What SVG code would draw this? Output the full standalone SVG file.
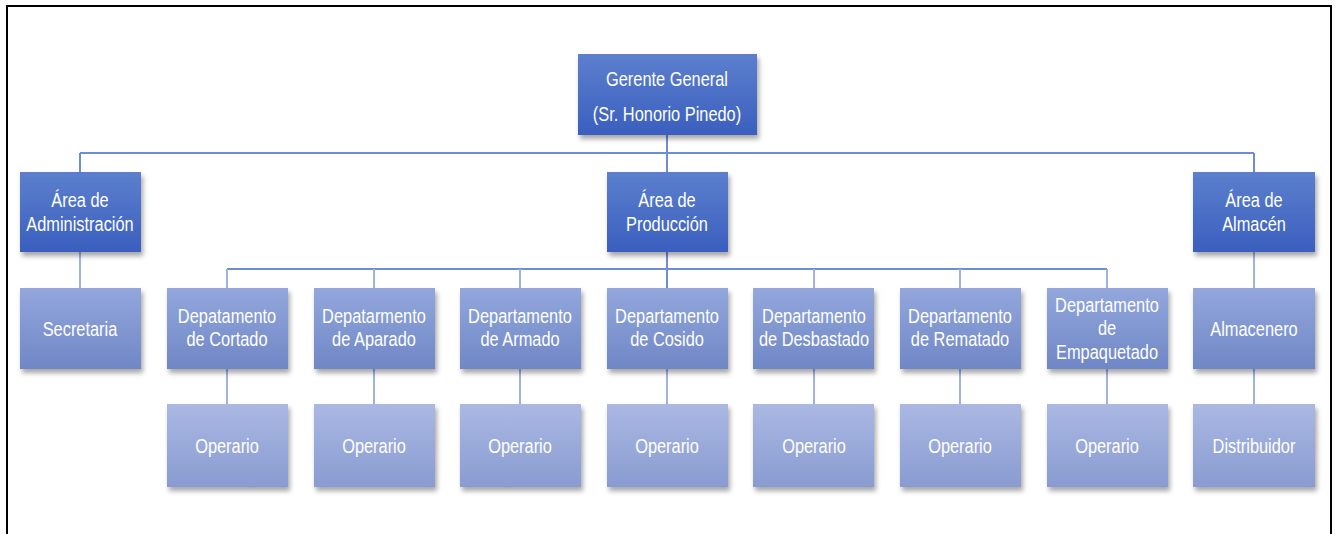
<svg xmlns="http://www.w3.org/2000/svg" width="1338" height="534" viewBox="0 0 1338 534">
  <defs>
    <linearGradient id="gDark" x1="0" y1="0" x2="0" y2="1">
      <stop offset="0" stop-color="#5c7fcd"/>
      <stop offset="1" stop-color="#3a5fbf"/>
    </linearGradient>
    <linearGradient id="gMid" x1="0" y1="0" x2="0" y2="1">
      <stop offset="0" stop-color="#93a7dc"/>
      <stop offset="1" stop-color="#6f87c6"/>
    </linearGradient>
    <linearGradient id="gLight" x1="0" y1="0" x2="0" y2="1">
      <stop offset="0" stop-color="#aab8e2"/>
      <stop offset="1" stop-color="#899bd1"/>
    </linearGradient>
    <filter id="shadow" x="-10%" y="-10%" width="125%" height="135%">
      <feDropShadow dx="2" dy="4" stdDeviation="2.5" flood-color="#000" flood-opacity="0.35"/>
    </filter>
  </defs>
  <style>
    .box { filter: url(#shadow); }
    .dark { fill: url(#gDark); }
    .mid { fill: url(#gMid); }
    .light { fill: url(#gLight); }
    /* condensed sans: regular face squeezed horizontally */
    text { font-family: "Liberation Sans", Arial, sans-serif; font-size: 21px; fill: #ffffff; text-anchor: middle; }
    .lnTop { stroke: #6f8dd5; stroke-width: 2; fill: none; }
    .lnLow { stroke: #a2b1e0; stroke-width: 2; fill: none; }
  </style>

  <rect width="1338" height="534" fill="#ffffff"/>
  <!-- frame -->
  <path d="M7,534 V6 H1331 V534" fill="none" stroke="#000" stroke-width="2"/>

  <!-- connectors -->
  <g id="connectors">
    <path class="lnTop" d="M667,135 V172 M80,153 H1254 M80,153 V172 M1254,153 V172"/>
    <path class="lnTop" d="M667,252 V288 M227,269 H1107"/>
    <path class="lnLow" d="M227,269 V288 M374,269 V288 M520,269 V288 M814,269 V288 M960,269 V288 M1107,269 V288"/>
    <path class="lnLow" d="M80,252 V288 M1254,252 V288"/>
    <path class="lnLow" d="M227,369 V404 M374,369 V404 M520,369 V404 M667,369 V404 M814,369 V404 M960,369 V404 M1107,369 V404 M1254,369 V404"/>
  </g>

  <!-- top -->
  <g id="gerente">
    <rect class="box dark" x="578" y="54" width="179" height="81"/>
    <text transform="translate(667 86) scale(0.78 1)">Gerente General</text>
    <text transform="translate(667 121) scale(0.78 1)">(Sr. Honorio Pinedo)</text>
  </g>

  <!-- areas -->
  <g id="area-administracion">
    <rect class="box dark" x="20" y="172" width="121" height="80"/>
    <text transform="translate(80 207) scale(0.78 1)">Área de</text>
    <text transform="translate(80 231) scale(0.78 1)">Administración</text>
  </g>
  <g id="area-produccion">
    <rect class="box dark" x="607" y="172" width="121" height="80"/>
    <text transform="translate(667 207) scale(0.78 1)">Área de</text>
    <text transform="translate(667 231) scale(0.78 1)">Producción</text>
  </g>
  <g id="area-almacen">
    <rect class="box dark" x="1193" y="172" width="122" height="80"/>
    <text transform="translate(1254 207) scale(0.78 1)">Área de</text>
    <text transform="translate(1254 231) scale(0.78 1)">Almacén</text>
  </g>

  <!-- departments -->
  <g id="secretaria">
    <rect class="box mid" x="20" y="288" width="121" height="81"/>
    <text transform="translate(80 336) scale(0.78 1)">Secretaria</text>
  </g>
  <g id="dep-cortado">
    <rect class="box mid" x="167" y="288" width="121" height="81"/>
    <text transform="translate(227 323) scale(0.78 1)">Depatamento</text>
    <text transform="translate(227 346) scale(0.78 1)">de Cortado</text>
  </g>
  <g id="dep-aparado">
    <rect class="box mid" x="314" y="288" width="121" height="81"/>
    <text transform="translate(374 323) scale(0.78 1)">Depatarmento</text>
    <text transform="translate(374 346) scale(0.78 1)">de Aparado</text>
  </g>
  <g id="dep-armado">
    <rect class="box mid" x="460" y="288" width="121" height="81"/>
    <text transform="translate(520 323) scale(0.78 1)">Departamento</text>
    <text transform="translate(520 346) scale(0.78 1)">de Armado</text>
  </g>
  <g id="dep-cosido">
    <rect class="box mid" x="607" y="288" width="121" height="81"/>
    <text transform="translate(667 323) scale(0.78 1)">Departamento</text>
    <text transform="translate(667 346) scale(0.78 1)">de Cosido</text>
  </g>
  <g id="dep-desbastado">
    <rect class="box mid" x="753" y="288" width="121" height="81"/>
    <text transform="translate(814 323) scale(0.78 1)">Departamento</text>
    <text transform="translate(814 346) scale(0.78 1)">de Desbastado</text>
  </g>
  <g id="dep-rematado">
    <rect class="box mid" x="900" y="288" width="121" height="81"/>
    <text transform="translate(960 323) scale(0.78 1)">Departamento</text>
    <text transform="translate(960 346) scale(0.78 1)">de Rematado</text>
  </g>
  <g id="dep-empaquetado">
    <rect class="box mid" x="1047" y="288" width="121" height="81"/>
    <text transform="translate(1107 312) scale(0.78 1)">Departamento</text>
    <text transform="translate(1107 335) scale(0.78 1)">de</text>
    <text transform="translate(1107 359) scale(0.78 1)">Empaquetado</text>
  </g>
  <g id="almacenero">
    <rect class="box mid" x="1193" y="288" width="122" height="81"/>
    <text transform="translate(1254 336) scale(0.78 1)">Almacenero</text>
  </g>

  <!-- staff -->
  <g id="operario-1">
    <rect class="box light" x="167" y="404" width="121" height="83"/>
    <text transform="translate(227 453) scale(0.78 1)">Operario</text>
  </g>
  <g id="operario-2">
    <rect class="box light" x="314" y="404" width="121" height="83"/>
    <text transform="translate(374 453) scale(0.78 1)">Operario</text>
  </g>
  <g id="operario-3">
    <rect class="box light" x="460" y="404" width="121" height="83"/>
    <text transform="translate(520 453) scale(0.78 1)">Operario</text>
  </g>
  <g id="operario-4">
    <rect class="box light" x="607" y="404" width="121" height="83"/>
    <text transform="translate(667 453) scale(0.78 1)">Operario</text>
  </g>
  <g id="operario-5">
    <rect class="box light" x="753" y="404" width="121" height="83"/>
    <text transform="translate(814 453) scale(0.78 1)">Operario</text>
  </g>
  <g id="operario-6">
    <rect class="box light" x="900" y="404" width="121" height="83"/>
    <text transform="translate(960 453) scale(0.78 1)">Operario</text>
  </g>
  <g id="operario-7">
    <rect class="box light" x="1047" y="404" width="121" height="83"/>
    <text transform="translate(1107 453) scale(0.78 1)">Operario</text>
  </g>
  <g id="distribuidor">
    <rect class="box light" x="1193" y="404" width="122" height="83"/>
    <text transform="translate(1254 453) scale(0.78 1)">Distribuidor</text>
  </g>
</svg>
